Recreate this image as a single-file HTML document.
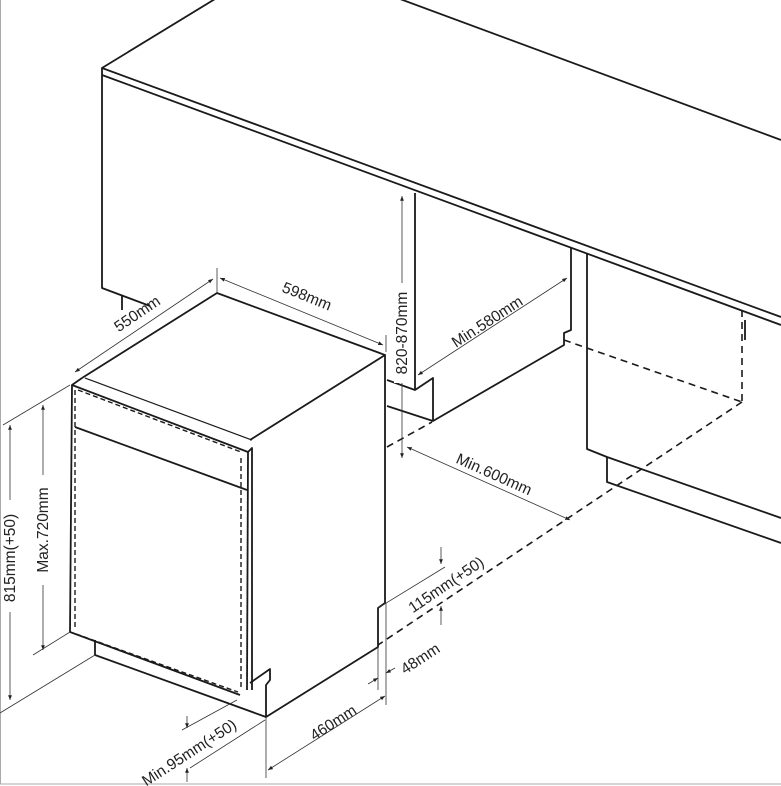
<!DOCTYPE html>
<html><head><meta charset="utf-8"><style>
html,body{margin:0;padding:0;background:#fff;}
svg{display:block;}
text{font-family:"Liberation Sans",sans-serif;font-size:15.5px;fill:#222;}
</style></head><body>
<svg width="781" height="786" viewBox="0 0 781 786" xmlns="http://www.w3.org/2000/svg">
<defs>
<marker id="a" viewBox="0 0 10 10" refX="10" refY="5" markerWidth="6" markerHeight="6" orient="auto-start-reverse"><path d="M0,1 L10,5 L0,9 z" fill="#222"/></marker>
</defs>
<rect x="0.5" y="-2" width="790" height="786" fill="none" stroke="#aaa" stroke-width="1"/>
<g fill="none" stroke="#1a1a1a" stroke-width="1.8" stroke-linejoin="round">
<polyline points="215,-1 102,68 781,317"/>
<line x1="102" y1="75" x2="781" y2="325"/>
<line x1="400" y1="-1" x2="781" y2="140"/>
<polyline points="102,68 102,288 150,306"/>
<line x1="122" y1="295" x2="122" y2="310"/>
<polyline points="415,193 415,390 433,378 433,421 564,345 564,333 571,330 571,248"/>
<line x1="387" y1="380" x2="415" y2="390"/>
<line x1="387" y1="406" x2="433" y2="421"/>
<polyline points="587,253 587,449 607,457 781,518"/>
<polyline points="607,457 607,482 781,543"/>
<line x1="745" y1="320" x2="745" y2="340"/>
<polyline points="82,378 217,293 385,355 250,440"/>
<polyline points="385,355 385,603 378,608 378,647 266,717 266,685 270,680 270,669 250,683"/>
<polyline points="82,378 72,385 248,452 252,448 252,690"/>
<line x1="72" y1="385" x2="70" y2="632"/>
<line x1="75" y1="427" x2="247" y2="490"/>
<line x1="248" y1="452" x2="247" y2="690"/>
<line x1="70" y1="632" x2="240" y2="695"/>
<line x1="95" y1="640" x2="95" y2="655"/>
<line x1="95" y1="655" x2="266" y2="717"/>
<line x1="85" y1="378" x2="252" y2="440" stroke-width="1.2"/>
</g>
<g fill="none" stroke="#1a1a1a" stroke-width="1.4" stroke-dasharray="5,3">
<line x1="75" y1="390" x2="75" y2="628"/>
<line x1="241" y1="458" x2="241" y2="688"/>
<line x1="78" y1="390" x2="241" y2="452"/>
<line x1="76" y1="634" x2="238" y2="692"/>
</g>
<g fill="none" stroke="#1a1a1a" stroke-width="1.6" stroke-dasharray="7,5">
<line x1="564" y1="340" x2="742" y2="402"/>
<line x1="742" y1="310" x2="742" y2="402"/>
<line x1="742" y1="402" x2="378" y2="645"/>
<line x1="387" y1="447" x2="432" y2="422"/>
</g>
<g fill="none" stroke="#333" stroke-width="0.8">
<line x1="217" y1="268" x2="217" y2="292"/>
<line x1="75" y1="372" x2="213" y2="279" marker-start="url(#a)" marker-end="url(#a)"/>
<line x1="220" y1="278" x2="383" y2="345" marker-start="url(#a)" marker-end="url(#a)"/>
<line x1="386" y1="335" x2="386" y2="352"/>
<line x1="402" y1="196" x2="402" y2="458" marker-start="url(#a)" marker-end="url(#a)"/>
<line x1="418" y1="375" x2="567" y2="278" marker-start="url(#a)" marker-end="url(#a)"/>
<line x1="407" y1="447" x2="570" y2="520" marker-start="url(#a)" marker-end="url(#a)"/>
<line x1="441" y1="547" x2="441" y2="564" marker-end="url(#a)"/>
<line x1="441" y1="625" x2="441" y2="606" marker-end="url(#a)"/>
<line x1="378" y1="608" x2="445" y2="567"/>
<line x1="378" y1="647" x2="378" y2="690"/>
<line x1="386" y1="603" x2="386" y2="705"/>
<line x1="368" y1="684" x2="378" y2="678" marker-end="url(#a)"/>
<line x1="395" y1="668" x2="386" y2="673" marker-end="url(#a)"/>
<line x1="266" y1="717" x2="266" y2="778"/>
<line x1="268" y1="770" x2="385" y2="696" marker-start="url(#a)" marker-end="url(#a)"/>
<line x1="182" y1="730" x2="237" y2="700"/>
<line x1="190" y1="768" x2="265" y2="720"/>
<line x1="187" y1="716" x2="187" y2="728" marker-end="url(#a)"/>
<line x1="187" y1="782" x2="187" y2="768" marker-end="url(#a)"/>
<line x1="10" y1="425" x2="10" y2="700" marker-start="url(#a)" marker-end="url(#a)"/>
<line x1="0" y1="713" x2="95" y2="655"/>
<line x1="3" y1="425" x2="70" y2="385"/>
<line x1="43" y1="405" x2="43" y2="650" marker-start="url(#a)" marker-end="url(#a)"/>
<line x1="33" y1="655" x2="70" y2="632"/>
</g>
<g>
<rect x="2" y="500" width="16" height="112" fill="#fff"/>
<text transform="translate(15,558) rotate(-90)" text-anchor="middle">815mm(+50)</text>
<rect x="35" y="475" width="16" height="110" fill="#fff"/>
<text transform="translate(48,530) rotate(-90)" text-anchor="middle">Max.720mm</text>
<rect x="394" y="283" width="16" height="100" fill="#fff"/>
<text transform="translate(407,333) rotate(-90)" text-anchor="middle">820-870mm</text>
<text transform="translate(140,318) rotate(-34)" text-anchor="middle">550mm</text>
<text transform="translate(305,301) rotate(22)" text-anchor="middle">598mm</text>
<text transform="translate(490,326) rotate(-33)" text-anchor="middle">Min.580mm</text>
<text transform="translate(492,479) rotate(24)" text-anchor="middle">Min.600mm</text>
<text transform="translate(449,589) rotate(-34)" text-anchor="middle">115mm(+50)</text>
<text transform="translate(423,663) rotate(-33)" text-anchor="middle">48mm</text>
<text transform="translate(336,727) rotate(-33)" text-anchor="middle">460mm</text>
<text transform="translate(192,757) rotate(-33)" text-anchor="middle">Min.95mm(+50)</text>
</g>
</svg>
</body></html>
